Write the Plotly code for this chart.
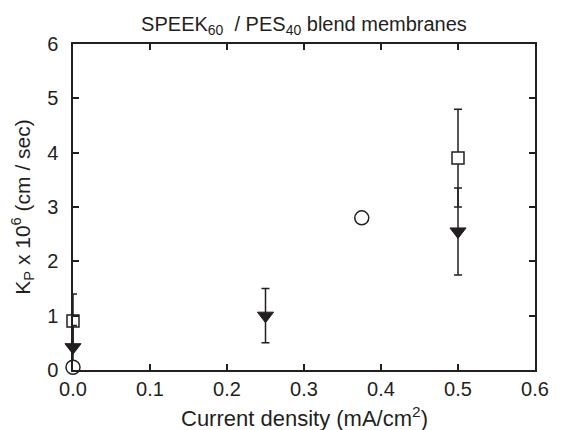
import plotly.graph_objects as go

# data
sq_x = [0.0, 0.5]
sq_y = [0.9, 3.9]
sq_err = [0.5, 0.9]

tri_x = [0.0, 0.25, 0.5]
tri_y = [0.42, 1.0, 2.55]
tri_err = [0.4, 0.5, 0.8]

circ_x = [0.0, 0.375]
circ_y = [0.05, 2.8]

x_ticks = [0.0, 0.1, 0.2, 0.3, 0.4, 0.5, 0.6]
x_ticktext = ["0.0", "0.1", "0.2", "0.3", "0.4", "0.5", "0.6"]
y_ticks = [0, 1, 2, 3, 4, 5, 6]

font = "Arial, Liberation Sans, Helvetica, sans-serif"
ink = "#231f20"

fig = go.Figure()

fig.add_trace(go.Scatter(
    x=sq_x, y=sq_y, mode="markers", cliponaxis=False,
    marker=dict(symbol="square", size=12, color="white",
                line=dict(color=ink, width=1.5)),
    error_y=dict(type="data", array=sq_err, color=ink, thickness=1.5, width=4),
))
fig.add_trace(go.Scatter(
    x=tri_x, y=tri_y, mode="markers", cliponaxis=False,
    marker=dict(symbol="triangle-down", size=14, color=ink,
                line=dict(color=ink, width=1)),
    error_y=dict(type="data", array=tri_err, color=ink, thickness=1.5, width=4),
))
fig.add_trace(go.Scatter(
    x=circ_x, y=circ_y, mode="markers", cliponaxis=False,
    marker=dict(symbol="circle", size=14, color="white",
                line=dict(color=ink, width=1.5)),
))

axis_common = dict(
    showline=True, linecolor=ink, linewidth=1.5, mirror="ticks",
    ticks="inside", ticklen=6, tickwidth=1.5, tickcolor=ink,
    showgrid=False, zeroline=False,
    tickfont=dict(family=font, size=20, color=ink),
)

fig.update_xaxes(
    range=[0, 0.6], tickvals=x_ticks, ticktext=x_ticktext,
    ticklabelstandoff=0,
    **axis_common,
)
fig.update_yaxes(
    range=[0, 6], tickvals=y_ticks,
    ticklabelstandoff=9,
    title=dict(text="K<sub>P</sub> x 10<sup>6</sup> (cm / sec)",
               font=dict(family=font, size=21, color=ink), standoff=12),
    **axis_common,
)

# x axis title as an annotation so it sits tight under the tick labels
fig.add_annotation(
    text="Current density (mA/cm<sup>2</sup>)",
    xref="paper", yref="paper", x=0.5, y=-0.095,
    xanchor="center", yanchor="top", showarrow=False,
    font=dict(family=font, size=22, color=ink),
)

# the page body adds an 8px margin, so the figure is 8px smaller than the window
fig.update_layout(
    width=553, height=422,
    margin=dict(l=65, r=15, t=36, b=60),
    paper_bgcolor="white", plot_bgcolor="white",
    showlegend=False,
    title=dict(text="SPEEK<sub>60</sub>  / PES<sub>40</sub> blend membranes",
               xref="paper", x=0.5, xanchor="center", y=0.978, yanchor="top",
               font=dict(family=font, size=20, color=ink)),
)

fig.write_html("out.html")
